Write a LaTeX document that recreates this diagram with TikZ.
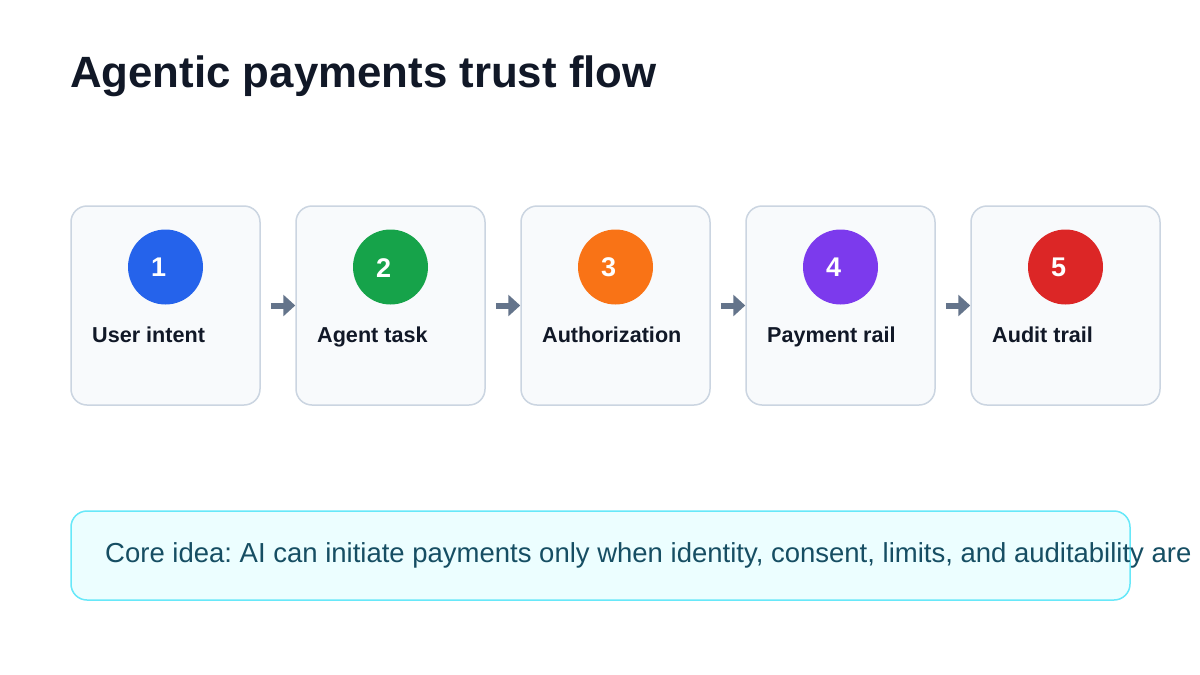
\documentclass[tikz,border=0pt]{standalone}
\usepackage{fontspec}
\setmainfont{Liberation Sans}
\usetikzlibrary{arrows.meta}
\definecolor{ink}{HTML}{111827}
\definecolor{cardfill}{HTML}{F8FAFC}
\definecolor{cardline}{HTML}{CBD5E1}
\definecolor{arrowgray}{HTML}{64748B}
\definecolor{stepblue}{HTML}{2563EB}
\definecolor{stepgreen}{HTML}{16A34A}
\definecolor{steporange}{HTML}{F97316}
\definecolor{steppurple}{HTML}{7C3AED}
\definecolor{stepred}{HTML}{DC2626}
\definecolor{notefill}{HTML}{ECFEFF}
\definecolor{noteline}{HTML}{67E8F9}
\definecolor{notetext}{HTML}{164E63}
\begin{document}
\frenchspacing
\begin{tikzpicture}[x=1pt,y=-1pt,
    stepcard/.style={draw=cardline,fill=cardfill,line width=1.5pt,rounded corners=16pt,
        minimum width=189pt,minimum height=199pt,inner sep=0pt},
    badge/.style={circle,minimum size=75pt,inner sep=0pt},
    digit/.style={inner sep=0pt,text=white,font=\bfseries\fontsize{27}{27}\selectfont},
    steplabel/.style={anchor=base west,inner sep=0pt,text=ink,
        font=\bfseries\fontsize{21.6}{26}\selectfont},
    flow/.style={draw=arrowgray,line width=6pt,-{Triangle[length=12pt,width=21pt]},shorten <=10pt}]
        \useasboundingbox[fill=white] (0,0) rectangle (1200,675);

        \draw (70,87) node[anchor=base west,inner sep=0pt,text=ink,
            font=\bfseries\fontsize{43.8}{50}\selectfont](title) {Agentic payments trust flow};

        % the five steps
        \draw (165.5,305.5) node[stepcard](intent) {};
        \draw (390.5,305.5) node[stepcard](task) {};
        \draw (615.5,305.5) node[stepcard](auth) {};
        \draw (840.5,305.5) node[stepcard](rail) {};
        \draw (1065.5,305.5) node[stepcard](audit) {};

        \draw (165.5,267) node[badge,fill=stepblue](c1) {};
        \draw (390.5,267) node[badge,fill=stepgreen](c2) {};
        \draw (615.5,267) node[badge,fill=steporange](c3) {};
        \draw (840.5,267) node[badge,fill=steppurple](c4) {};
        \draw (1065.5,267) node[badge,fill=stepred](c5) {};

        \draw (158.7,267.6) node[digit](n1) {1};
        \draw (383.7,267.6) node[digit](n2) {2};
        \draw (608.7,267.6) node[digit](n3) {3};
        \draw (833.7,267.6) node[digit](n4) {4};
        \draw (1058.7,267.6) node[digit](n5) {5};

        \draw (92,342) node[steplabel](l1) {User intent};
        \draw (317,342) node[steplabel](l2) {Agent task};
        \draw (542,342) node[steplabel](l3) {Authorization};
        \draw (767,342) node[steplabel](l4) {Payment rail};
        \draw (992,342) node[steplabel](l5) {Audit trail};

        \draw[flow] (intent.east) -- (task.west);
        \draw[flow] (task.east) -- (auth.west);
        \draw[flow] (auth.east) -- (rail.west);
        \draw[flow] (rail.east) -- (audit.west);

        % core idea note
        \draw[draw=noteline,fill=notefill,line width=1.5pt,rounded corners=16pt]
            (71,511) rectangle (1130,600);
        \draw (105,562.3) node[anchor=base west,inner sep=0pt,text=notetext,
            font=\fontsize{27.5}{32}\selectfont](idea)
            {Core idea: AI can initiate payments only when identity, consent, limits, and auditability are};
    \end{tikzpicture}
\end{document}
